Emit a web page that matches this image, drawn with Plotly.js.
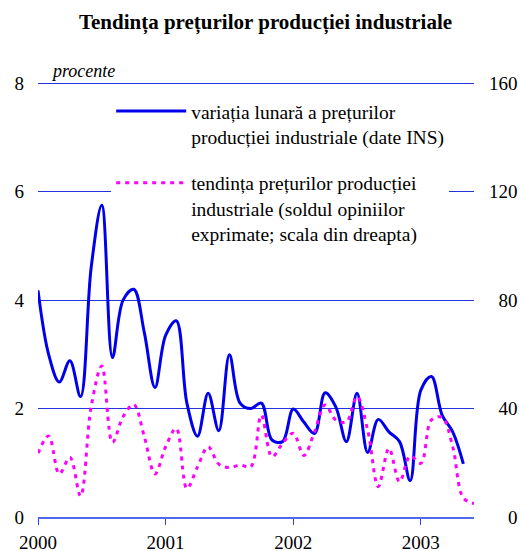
<!DOCTYPE html>
<html>
<head>
<meta charset="utf-8">
<script src="https://cdn.plot.ly/plotly-3.0.1.min.js"></script>
<style>html,body{margin:0;padding:0;background:#fff;}#chart{width:520px;height:551px;}</style>
</head>
<body>
<div id="chart"></div>
<script>
// month index 0 = Jan 2000
var blueMonths = [0,1,2,3,4,5,6,7,8,9,10,11,12,13,14,15,16,17,18,19,20,21,22,23,24,25,26,27,28,29,30,31,32,33,34,35,36,37,38,39,40];
var blueValues = [4.18,3.0,2.49,2.88,2.22,4.6,5.75,2.94,4.0,4.2,3.4,2.39,3.35,3.62,2.1,1.49,2.28,1.59,2.99,2.1,2.0,2.1,1.42,1.39,1.99,1.75,1.54,2.29,2.03,1.39,2.28,1.19,1.80,1.57,1.39,0.67,2.34,2.59,1.88,1.57,0.98];
var pinkMonths = [0,1,2,3,4,5,6,7,8,9,10,11,12,13,14,15,16,17,18,19,20,21,22,23,24,25,26,27,28,29,30,31,32,33,34,35,36,37,38,39,40,41];
var pinkValues = [23.5,29.9,15.9,22.0,7.7,40.7,55.7,27.5,37,41.5,29.6,15.9,25.9,32.7,10.5,18.5,25.9,19.5,18.2,19.2,18.5,37.6,22.2,27.2,30.9,22.7,31.4,41.3,35.8,35.1,44.4,32.1,11.2,25.3,13.0,22.5,19.8,35.8,36.7,25.9,7,5];
var yearTicks = [0,12,24,36];
var yearLabels = ['2000','2001','2002','2003'];
var leftTicks = [0,2,4,6,8];
var leftLabels = ['0','2','4','6','8'];
var rightTicks = [0,40,80,120,160];
var rightLabels = ['\u2007\u20070','\u200740','\u200780','120','160'];
var blueName = 'variația lunară a prețurilor<br>producției industriale (date INS)';
var pinkName = 'tendința prețurilor producției<br>industriale (soldul opiniilor<br>exprimate; scala din dreapta)';

var FONT = '"Liberation Serif", serif';

var traces = [
  {x: blueMonths, y: blueValues, type: 'scatter', mode: 'lines', name: blueName,
   line: {color: '#0000ee', width: 3, shape: 'spline', smoothing: 1}, yaxis: 'y', legendgroup: 'a'},
  {x: pinkMonths, y: pinkValues, type: 'scatter', mode: 'lines', name: pinkName,
   line: {color: '#ff00ff', width: 3, dash: '4px,5px', shape: 'spline', smoothing: 1}, yaxis: 'y2', legendgroup: 'b'}
];

var layout = {
  width: 520, height: 551,
  margin: {l: 38, r: 46, t: 81, b: 34, pad: 0},
  paper_bgcolor: '#fff', plot_bgcolor: '#fff',
  font: {family: FONT, size: 18, color: '#000'},
  title: {text: '<b>Tendința prețurilor producției industriale</b>', font: {family: FONT, size: 21, color: '#000'},
          x: 0.5106, xref: 'container', xanchor: 'center', y: 1 - 22/551, yref: 'container', yanchor: 'middle'},
  xaxis: {range: [0, 41], tickvals: yearTicks, ticktext: yearLabels, ticks: 'outside', ticklen: 6, tickwidth: 1,
          tickcolor: '#3344ee', showline: true, linecolor: '#5566ee', linewidth: 2, showgrid: false, zeroline: false,
          tickfont: {family: FONT, size: 19, color: '#000'}, ticklabelstandoff: 1, fixedrange: true},
  yaxis: {range: [0, 8.04], tickvals: leftTicks, ticktext: leftLabels, ticks: '', showgrid: true, gridcolor: '#2233dd', gridwidth: 1,
          zeroline: false, showline: false, tickfont: {family: FONT, size: 19, color: '#000'}, ticklabelstandoff: 13},
  yaxis2: {range: [0, 160.8], tickvals: rightTicks, ticktext: rightLabels, overlaying: 'y', side: 'right', ticks: '',
           showgrid: false, zeroline: false, showline: false, tickfont: {family: FONT, size: 19, color: '#000'}, ticklabelstandoff: 14},
  showlegend: true,
  legend: {x: 0.1678, y: 0.975, xref: 'paper', yref: 'paper', xanchor: 'left', yanchor: 'top', bgcolor: '#fff',
           font: {family: FONT, size: 19.5, color: '#000'}, itemwidth: 70, valign: 'top', tracegroupgap: 18,
           traceorder: 'grouped', entrywidth: 347, entrywidthmode: 'pixels'},
  annotations: [{text: '<i>procente</i>', xref: 'paper', yref: 'paper', x: 0.025, y: 1.0, xanchor: 'left', yanchor: 'bottom',
                 showarrow: false, font: {family: FONT, size: 18, color: '#000'}, yshift: -2}]
};

Plotly.newPlot('chart', traces, layout, {staticPlot: true, displayModeBar: false});
</script>
</body>
</html>
